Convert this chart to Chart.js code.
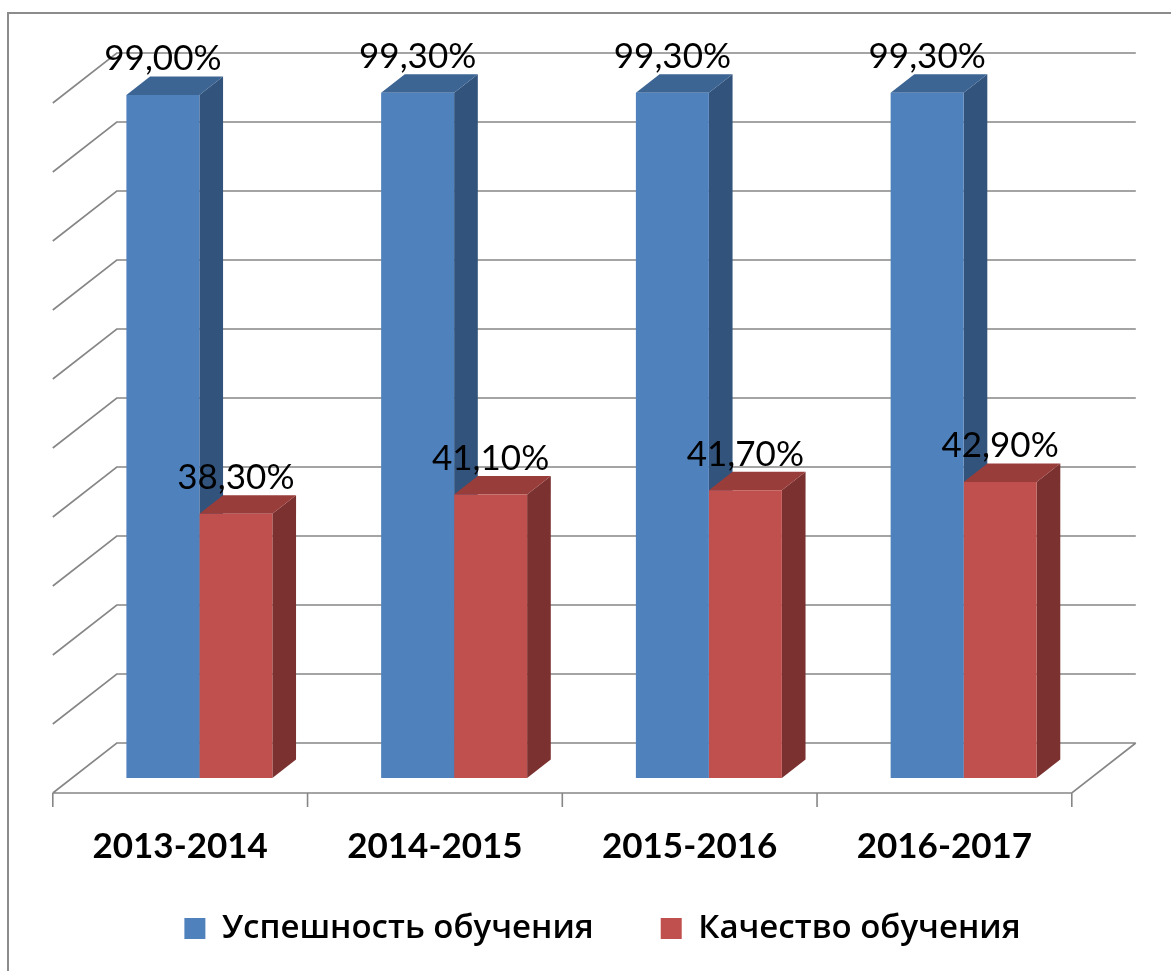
<!DOCTYPE html>
<html><head><meta charset="utf-8">
<script src="https://cdn.jsdelivr.net/npm/chart.js@4.4.0/dist/chart.umd.min.js"></script>
<style>html,body{margin:0;padding:0;background:#fff;overflow:hidden}canvas{display:block}</style>
</head><body>
<canvas id="chart" width="1171" height="971"></canvas>
<script>
// ---- data ----
const categories = ['2013-2014', '2014-2015', '2015-2016', '2016-2017'];
const seriesNames = ['Успешность обучения', 'Качество обучения'];
const successValues = [99.0, 99.3, 99.3, 99.3];
const qualityValues = [38.3, 41.1, 41.7, 42.9];
const yMin = 0, yMax = 100, yStep = 10;

// ---- 3D look (styling only) ----
const DX = 64, DY = 50;      // depth vector from front plane to back wall
const F0 = 0.3, F1 = 0.67;   // bar depth range (fraction of full depth)
const GRID = '#868686';

function fmt(v) { return v.toFixed(2).replace('.', ',') + '%'; }

const threeD = {
  id: 'threeD',
  beforeDraw(chart) {
    const ctx = chart.ctx;
    ctx.save();
    ctx.fillStyle = '#fff';
    ctx.fillRect(0, 0, chart.width, chart.height);
    ctx.strokeStyle = '#8c8c8c';
    ctx.lineWidth = 2;
    ctx.beginPath();
    ctx.moveTo(8, chart.height);
    ctx.lineTo(8, 13);
    ctx.lineTo(chart.width, 13);
    ctx.stroke();
    ctx.restore();
  },
  afterLayout(chart) {
    const lg = chart.legend;
    if (lg) { lg.left += 21; lg.right += 21; lg.top -= 23; lg.bottom -= 23; }
  },
  beforeDatasetsDraw(chart) {
    const {ctx, chartArea: a, scales: {x, y}} = chart;
    const bx = (1 - F0) * DX, by = (1 - F0) * DY;
    const fx = F0 * DX, fy = F0 * DY;
    const bl = a.left + bx, br = a.right + bx;
    ctx.save();
    // walls and floor
    ctx.strokeStyle = GRID;
    ctx.lineWidth = 1.6;
    ctx.beginPath();
    y.ticks.forEach(t => {
      const py = y.getPixelForValue(t.value) - by;
      ctx.moveTo(bl - DX, py + DY);
      ctx.lineTo(bl, py);
      ctx.lineTo(br, py);
    });
    const y0 = y.getPixelForValue(yMin);
    ctx.moveTo(br, y0 - by);
    ctx.lineTo(br - DX, y0 - by + DY);
    ctx.lineTo(a.left - fx, y0 + fy);
    const n = categories.length;
    const cw = n > 1 ? x.getPixelForValue(1) - x.getPixelForValue(0) : (a.right - a.left);
    for (let i = 0; i <= n; i++) {
      const px = x.getPixelForValue(0) - cw / 2 + i * cw - fx;
      ctx.moveTo(px, y0 + fy);
      ctx.lineTo(px, y0 + fy + 14);
    }
    ctx.stroke();
    // side and top faces of bars (fronts are drawn by Chart.js afterwards)
    const ox = (F1 - F0) * DX, oy = (F1 - F0) * DY;
    chart.data.datasets.forEach((ds, i) => {
      chart.getDatasetMeta(i).data.forEach(bar => {
        const p = bar.getProps(['x', 'y', 'base', 'width'], true);
        const l = p.x - p.width / 2, r = p.x + p.width / 2, t = p.y, b = p.base;
        ctx.fillStyle = ds.sideColor;
        ctx.beginPath();
        ctx.moveTo(r, t); ctx.lineTo(r + ox, t - oy); ctx.lineTo(r + ox, b - oy); ctx.lineTo(r, b);
        ctx.closePath(); ctx.fill();
        ctx.fillStyle = ds.topColor;
        ctx.beginPath();
        ctx.moveTo(l, t); ctx.lineTo(l + ox, t - oy); ctx.lineTo(r + ox, t - oy); ctx.lineTo(r, t);
        ctx.closePath(); ctx.fill();
      });
    });
    ctx.restore();
  },
  afterDatasetsDraw(chart) {
    const ctx = chart.ctx;
    const oy = (F1 - F0) * DY;
    ctx.save();
    ctx.font = '400 35px Lato';
    ctx.fillStyle = '#000';
    ctx.textAlign = 'center';
    ctx.textBaseline = 'alphabetic';
    chart.data.datasets.forEach((ds, i) => {
      chart.getDatasetMeta(i).data.forEach((bar, j) => {
        ctx.fillText(fmt(ds.data[j]), bar.x, bar.y - oy - 6);
      });
    });
    ctx.restore();
  }
};

Chart.defaults.font.family = 'Lato';
Chart.defaults.color = '#000';

new Chart(document.getElementById('chart'), {
  type: 'bar',
  data: {
    labels: categories,
    datasets: [
      { label: seriesNames[0], data: successValues, backgroundColor: '#4F81BD',
        topColor: '#3C6594', sideColor: '#32537C', borderWidth: 0 },
      { label: seriesNames[1], data: qualityValues, backgroundColor: '#C0504D',
        topColor: '#993D3B', sideColor: '#7B3130', borderWidth: 0 }
    ]
  },
  options: {
    responsive: false,
    maintainAspectRatio: false,
    animation: false,
    devicePixelRatio: 1,
    categoryPercentage: 0.573,
    barPercentage: 1.0,
    layout: { padding: { left: 72, right: 80, top: 88, bottom: 0 } },
    scales: {
      x: {
        grid: { display: false },
        border: { display: false },
        ticks: { font: { family: 'Lato', size: 35, weight: 'bold' }, color: '#000',
                 padding: 40, labelOffset: -F0 * DX, maxRotation: 0, autoSkip: false },
        afterFit(s) { s.height = 90; }
      },
      y: {
        min: yMin, max: yMax,
        grid: { display: false },
        border: { display: false },
        ticks: { display: false, stepSize: yStep },
        afterFit(s) { s.width = 0; }
      }
    },
    plugins: {
      tooltip: { enabled: false },
      legend: {
        position: 'bottom',
        maxHeight: 103,
        labels: {
          font: { family: 'Open Sans', size: 33, weight: '600' },
          color: '#000',
          boxWidth: 21, boxHeight: 21,
          padding: 67
        }
      }
    }
  },
  plugins: [threeD]
});
</script>
</body></html>
